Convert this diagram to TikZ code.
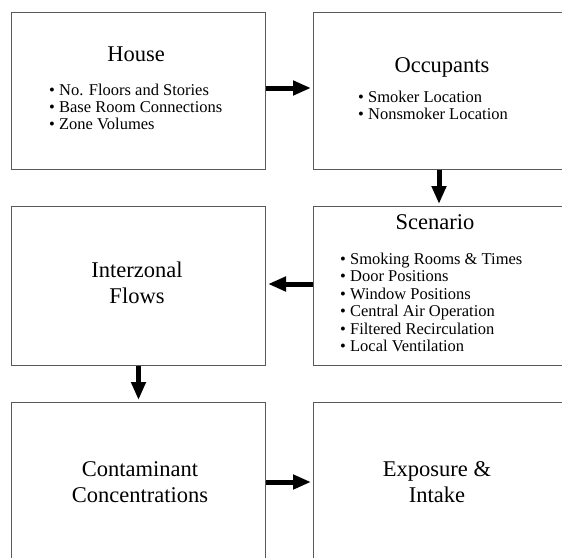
\documentclass[tikz,border=0pt]{standalone}
\usepackage{fontspec}
\setmainfont{Liberation Serif}
\usetikzlibrary{arrows.meta}
\begin{document}
\begin{tikzpicture}[x=1pt,y=-1pt,
  box/.style={draw=black!65, line width=1pt, rectangle, inner sep=0pt, anchor=north west},
  ttl/.style={font=\fontsize{22.5}{27}\selectfont, inner sep=0pt, anchor=base},
  bul/.style={font=\fontsize{16.5}{17.5}\selectfont, inner sep=0pt, anchor=base west},
  flow/.style={line width=5pt, -{Triangle[length=18pt,width=14pt]}, shorten >=2pt}]
\useasboundingbox (0,0) rectangle (562,557);
\clip (0,0) rectangle (562,557);
% boxes
\node[box, minimum width=254pt, minimum height=157pt] (house) at (11,12) {};
\node[box, minimum width=254pt, minimum height=157pt] (occ) at (313,12) {};
\node[box, minimum width=254pt, minimum height=159pt] (scen) at (313,206) {};
\node[box, minimum width=254pt, minimum height=159pt] (inter) at (11,206) {};
\node[box, minimum width=254pt, minimum height=158pt] (cont) at (11,402) {};
\node[box, minimum width=254pt, minimum height=158pt] (expo) at (313,402) {};
% House
\node[ttl] (houset) at (136,61) {House};
\node[bul] (h1) at (49,95) {• No. Floors and Stories};
\node[bul] (h2) at (49,112) {• Base Room Connections};
\node[bul] (h3) at (49,129) {• Zone Volumes};
% Occupants
\node[ttl] (occt) at (442,72) {Occupants};
\node[bul] (o1) at (358,102) {• Smoker Location};
\node[bul] (o2) at (358,119) {• Nonsmoker Location};
% Scenario
\node[ttl] (scent) at (435,229) {Scenario};
\node[bul] (s1) at (340,264) {• Smoking Rooms \& Times};
\node[bul] (s2) at (340,281.5) {• Door Positions};
\node[bul] (s3) at (340,299) {• Window Positions};
\node[bul] (s4) at (340,316.5) {• Central Air Operation};
\node[bul] (s5) at (340,334) {• Filtered Recirculation};
\node[bul] (s6) at (340,351.5) {• Local Ventilation};
% Interzonal
\node[ttl] (i1) at (137,277) {Interzonal};
\node[ttl] (i2) at (137,303) {Flows};
% Contaminant
\node[ttl] (c1) at (140,476) {Contaminant};
\node[ttl] (c2) at (140,502) {Concentrations};
% Exposure
\node[ttl] (e1) at (437,476) {Exposure \&};
\node[ttl] (e2) at (437,502) {Intake};
% arrows
\draw[flow] (house.east |- 0,88) -- (occ.west |- 0,88);
\draw[flow] (occ.south -| 439,0) -- (scen.north -| 439,0);
\draw[flow] (scen.west |- 0,284) -- (inter.east |- 0,284);
\draw[flow] (inter.south) -- (cont.north);
\draw[flow] (cont.east |- 0,482) -- (expo.west |- 0,482);
\end{tikzpicture}
\end{document}
